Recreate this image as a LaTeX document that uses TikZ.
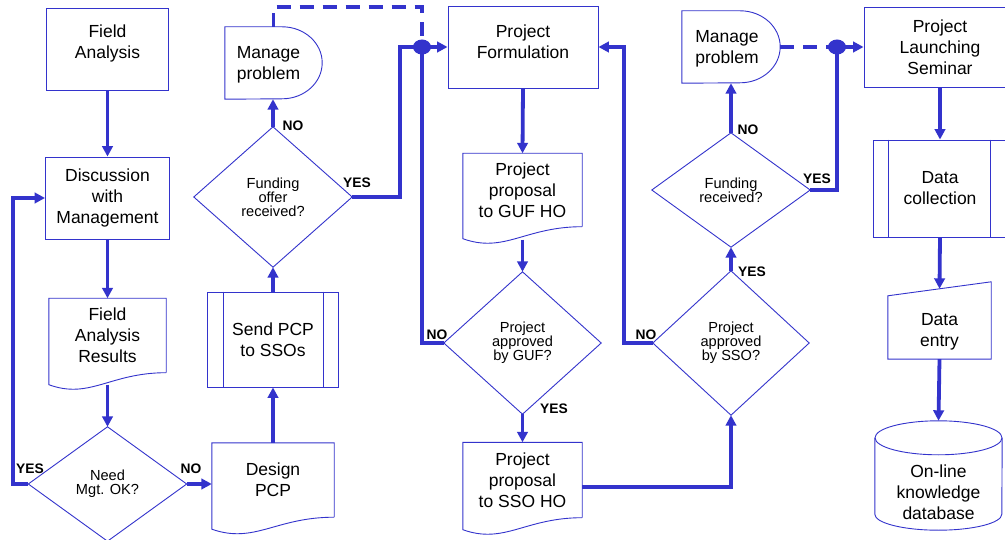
\documentclass[tikz,border=0pt]{standalone}
\usepackage{fontspec}
\setmainfont{Liberation Sans}
\usetikzlibrary{arrows.meta,calc}
\definecolor{bl}{RGB}{51,51,204}
\newcommand{\docshape}[1]{%
  \draw[outline] (#1.south east) -- (#1.north east) -- (#1.north west) -- ($(#1.south west)+(0pt,-12pt)$)
   .. controls ($(#1.south west)!0.35!(#1.south east)+(0pt,-27pt)$) and ($(#1.south west)!0.52!(#1.south east)$) .. (#1.south east);}
\newcommand{\diamshape}[1]{%
  \draw[outline] (#1.north) -- (#1.east) -- (#1.south) -- (#1.west) -- cycle;}
\newcommand{\delayshape}[1]{%
  \draw[outline] (#1.south west) -- (#1.north west) -- ([xshift=-40pt]#1.north east)
   arc[start angle=90,end angle=-90,x radius=40pt,y radius=36pt] -- cycle;}
\begin{document}
\begin{tikzpicture}[x=1pt,y=-1pt,
  txt/.style={font=\fontsize{17.5}{21}\selectfont, align=center, inner sep=0pt},
  boxed/.style={txt, draw=bl, line width=0.9pt},
  plain/.style={txt},
  shp/.style={inner sep=0pt},
  dtxt/.style={font=\fontsize{14.6}{14.2}\selectfont, align=center, inner sep=0pt},
  lbl/.style={font=\bfseries\fontsize{13.8}{14}\selectfont, inner sep=0pt},
  outline/.style={draw=bl, line width=0.9pt},
  flow/.style={draw=bl, line width=3.8pt, -{Triangle[length=10.5pt,width=10.5pt]}},
  link/.style={draw=bl, line width=3.8pt},
  dashlink/.style={draw=bl, line width=3.8pt, dash pattern=on 14pt off 9pt},
]
\fill[white] (0,0) rectangle (1005,540);
\useasboundingbox (0,0) rectangle (1005,540);

% column 1
\node[shp, draw=bl, line width=0.9pt, minimum width=122pt, minimum height=82pt] (fa) at (107.5,49) {};
\node[plain] (fat) at (107.5,43.5) {Field\\Analysis};
\node[boxed, minimum width=124pt, minimum height=82pt] (dm) at (107.5,198) {Discussion\\with\\Management};
\node[plain, minimum width=117pt, minimum height=74pt] (far) at (107.5,335.5) {Field\\Analysis\\Results};
\docshape{far}
\node[dtxt, minimum width=158pt, minimum height=114pt] (need) at (107.5,484) {Need\\Mgt. OK?};
\diamshape{need}

% column 2
\node[plain, minimum width=122pt, minimum height=74pt] (design) at (273,480) {Design\\PCP};
\docshape{design}
\node[boxed, minimum width=131pt, minimum height=95pt] (spcp) at (273,339.5) {Send PCP\\to SSOs};
\draw[outline] ([xshift=16pt]spcp.north west) -- ([xshift=16pt]spcp.south west);
\draw[outline] ([xshift=-16pt]spcp.north east) -- ([xshift=-16pt]spcp.south east);
\node[dtxt, minimum width=158pt, minimum height=140pt] (fund1) at (273,197) {Funding\\offer\\received?};
\diamshape{fund1}
\node[shp, minimum width=97pt, minimum height=72pt] (mp1) at (273.5,63) {};
\delayshape{mp1}
\node[plain] (mp1t) at (268.5,65) {Manage\\problem};

% column 3
\node[shp, draw=bl, line width=0.9pt, minimum width=150pt, minimum height=82pt] (pf) at (523,47) {};
\node[plain] (pft) at (523,42) {Project\\Formulation};
\node[plain, minimum width=119pt, minimum height=73pt] (gufdoc) at (522.5,190) {Project\\proposal\\to GUF HO};
\docshape{gufdoc}
\node[dtxt, minimum width=157pt, minimum height=142pt] (guf) at (522.5,343) {Project\\approved\\by GUF?};
\diamshape{guf}
\node[plain, minimum width=119pt, minimum height=75pt] (ssodoc) at (522.5,480) {Project\\proposal\\to SSO HO};
\docshape{ssodoc}

% column 4
\node[dtxt, minimum width=156pt, minimum height=144pt] (sso) at (731,343) {Project\\approved\\by SSO?};
\diamshape{sso}
\node[dtxt, minimum width=158pt, minimum height=114pt] (fund2) at (731,190) {Funding\\received?};
\diamshape{fund2}
\node[shp, minimum width=98pt, minimum height=72pt] (mp2) at (731,47) {};
\delayshape{mp2}
\node[plain] (mp2t) at (727,49) {Manage\\problem};

% column 5
\node[boxed, minimum width=152pt, minimum height=80pt] (pls) at (940,47) {Project\\Launching\\Seminar};
\node[boxed, minimum width=134pt, minimum height=97pt] (dc) at (940,188.5) {Data\\collection};
\draw[outline] ([xshift=16pt]dc.north west) -- ([xshift=16pt]dc.south west);
\draw[outline] ([xshift=-17pt]dc.north east) -- ([xshift=-17pt]dc.south east);
\node[shp, minimum width=103pt, minimum height=63pt] (de) at (939.5,327.5) {};
\draw[outline] (de.north west) -- ([yshift=14pt]de.north east) -- (de.south east) -- (de.south west) -- cycle;
\node[plain] (det) at (939.5,332) {Data\\entry};
\node[plain, minimum width=127pt, minimum height=75pt] (db) at (938.5,492.5) {On-line\\knowledge\\database};
\draw[outline] ([yshift=17pt]db.north west) -- ([yshift=16pt]db.south west)
   arc[start angle=180,end angle=360,x radius=63.5pt,y radius=16pt] -- ([yshift=17pt]db.north east);
\draw[outline] ([yshift=17pt]db.north) ellipse[x radius=63.5pt,y radius=17pt];

% junctions
\coordinate (j1) at (422,47);
\coordinate (j2) at (837,47);

% connectors
\draw[flow] (fa.south) -- (dm.north);
\draw[flow] (dm.south) -- (far.north);
\draw[flow] ([yshift=-12pt]far.south) -- (need.north);
\draw[flow] (need.west) -- ++(-15,0) |- (dm.west);
\draw[flow] (need.east) -- (need.east -| design.west);
\draw[flow] (design.north) -- (spcp.south);
\draw[flow] (spcp.north) -- (fund1.south);
\draw[flow] (fund1.north) -- (fund1.north |- mp1.south);
\draw[dashlink] (mp1.north) -- ++(0,-20) -| (j1);
\draw[link] (fund1.east) -- ++(48,0) |- (j1);
\draw[link] (j1) |- (guf.west);
\draw[flow] (j1) -- (pf.west);
\draw[flow] (pf.south) -- (gufdoc.north);
\draw[flow] ([yshift=-13pt]gufdoc.south) -- (guf.north);
\draw[flow] (guf.south) -- (ssodoc.north);
\draw[flow] ([yshift=-7pt]ssodoc.east) -| (sso.south);
\draw[flow] (sso.west) -- ++(-29,0) |- (pf.east);
\draw[flow] (sso.north) -- (fund2.south);
\draw[flow] (fund2.north) -- (mp2.south);
\draw[dashlink] (mp2.east) -- (j2);
\draw[link] (fund2.east) -- ++(27,0) |- (j2);
\draw[flow] (j2) -- (pls.west);
\draw[flow] (pls.south) -- (dc.north);
\draw[flow] (dc.south) -- ([yshift=7pt]de.north);
\draw[flow] (de.south) -- ([yshift=34pt]db.north);
\fill[bl] (j1) ellipse[x radius=9pt, y radius=7.5pt];
\fill[bl] (j2) ellipse[x radius=9pt, y radius=7.5pt];

% labels
\node[lbl] (l1) at (30,469) {YES};
\node[lbl] (l2) at (191,469) {NO};
\node[lbl] (l3) at (293,126) {NO};
\node[lbl] (l4) at (357,183) {YES};
\node[lbl] (l5) at (437,335) {NO};
\node[lbl] (l6) at (554,409) {YES};
\node[lbl] (l7) at (646,335) {NO};
\node[lbl] (l8) at (752,272) {YES};
\node[lbl] (l9) at (748,130) {NO};
\node[lbl] (l10) at (817,179) {YES};
\end{tikzpicture}
\end{document}
